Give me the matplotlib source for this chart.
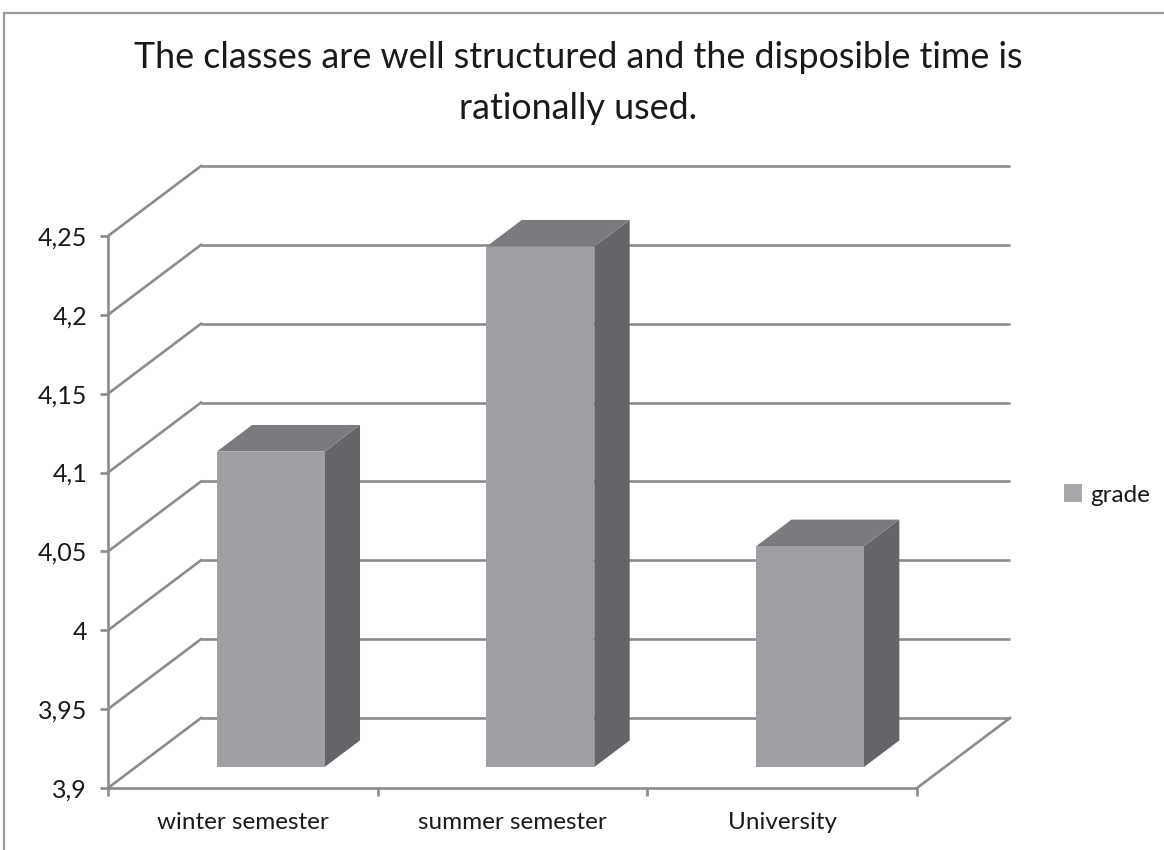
import matplotlib
matplotlib.use("Agg")
import matplotlib.pyplot as plt
from matplotlib.patches import Polygon, Rectangle, Patch

# ---- data -------------------------------------------------------------
categories = ["winter semester", "summer semester", "University"]
grade = [4.10, 4.23, 4.04]
y_ticks = [3.9, 3.95, 4.0, 4.05, 4.1, 4.15, 4.2, 4.25]
y_tick_labels = ["3,9", "3,95", "4", "4,05", "4,1", "4,15", "4,2", "4,25"]
series_name = "grade"
title = "The classes are well structured and the disposible time is\nrationally used."

# ---- style ------------------------------------------------------------
plt.rcParams["font.family"] = ["Lato", "DejaVu Sans"]
GRID = "#8c8c8c"
FRONT = "#9d9fa2"
TOP = "#7a7b7f"
SIDE = "#646569"
TXT = "#1a1a1a"
LW = 1.9

W, H = 1164, 850
fig = plt.figure(figsize=(W / 100, H / 100), dpi=100)

# axes = front plane of the 3-D plot box
x0p, x1p, ybot, ytop = 108, 917, 788, 236
ax = fig.add_axes([x0p / W, 1 - ybot / H, (x1p - x0p) / W, (ybot - ytop) / H])
ymin, ymax = y_ticks[0], y_ticks[-1]
n = len(categories)
ax.set_xlim(-0.5, n - 0.5)
ax.set_ylim(ymin, ymax)
ax.patch.set_visible(False)

# oblique depth offset (data units)
px_per_x = (x1p - x0p) / n
px_per_y = (ybot - ytop) / (ymax - ymin)
DX = 93 / px_per_x
DY = 70 / px_per_y

xl, xr = -0.5, n - 0.5

# back wall gridlines and left wall diagonals
for v in y_ticks:
    ax.plot([xl + DX, xr + DX], [v + DY, v + DY], color=GRID, lw=LW,
            clip_on=False, zorder=1, solid_capstyle="butt")
    ax.plot([xl, xl + DX], [v, v + DY], color=GRID, lw=LW,
            clip_on=False, zorder=1)
# right edge of floor
ax.plot([xr, xr + DX], [ymin, ymin + DY], color=GRID, lw=LW,
        clip_on=False, zorder=1)

# 3-D columns
d0, d1 = 0.30, 0.68
bw = 0.40
for i, v in enumerate(grade):
    fx0 = i - bw / 2 + d0 * DX
    fx1 = i + bw / 2 + d0 * DX
    fy0 = ymin + d0 * DY
    fy1 = v + d0 * DY
    ddx = (d1 - d0) * DX
    ddy = (d1 - d0) * DY
    front = Rectangle((fx0, fy0), fx1 - fx0, fy1 - fy0, facecolor=FRONT,
                      edgecolor="none", clip_on=False, zorder=3)
    side = Polygon([(fx1, fy0), (fx1 + ddx, fy0 + ddy), (fx1 + ddx, fy1 + ddy),
                    (fx1, fy1)], closed=True, facecolor=SIDE, edgecolor="none",
                   clip_on=False, zorder=3)
    top = Polygon([(fx0, fy1), (fx1, fy1), (fx1 + ddx, fy1 + ddy),
                   (fx0 + ddx, fy1 + ddy)], closed=True, facecolor=TOP,
                  edgecolor="none", clip_on=False, zorder=3)
    for p in (side, top, front):
        ax.add_patch(p)

# axes spines and ticks
for s in ("top", "right"):
    ax.spines[s].set_visible(False)
for s in ("left", "bottom"):
    ax.spines[s].set_color(GRID)
    ax.spines[s].set_linewidth(LW)
    ax.spines[s].set_zorder(4)

ax.set_yticks(y_ticks)
ax.set_yticklabels(y_tick_labels)
ax.tick_params(axis="y", direction="out", length=6, width=LW, color=GRID,
               pad=9, labelsize=18, labelcolor=TXT)

ax.set_xticks(range(n))
ax.set_xticklabels(categories)
ax.set_xticks([k - 0.5 for k in range(n + 1)], minor=True)
ax.tick_params(axis="x", which="major", length=0, pad=17, labelsize=17.5,
               labelcolor=TXT)
ax.tick_params(axis="x", which="minor", direction="out", length=6, width=LW,
               color=GRID)

# title
fig.text(578 / W, 1 - 83 / H, title, ha="center", va="center", fontsize=25.8,
         color=TXT, linespacing=1.68)

# legend
fig.legend(handles=[Patch(facecolor="#a6a7aa", edgecolor="none", label=series_name)],
           loc="center left", bbox_to_anchor=(1064 / W, 1 - 495 / H),
           frameon=False, fontsize=17.5, handlelength=0.75, handleheight=0.75,
           handletextpad=0.35, borderpad=0, borderaxespad=0, labelcolor=TXT)

# chart border
fig.patches.append(Rectangle((4 / W, -0.1), 1.2, 1 - 13 / H + 0.1,
                             transform=fig.transFigure, fill=False,
                             edgecolor="#9a9a9a", lw=1.6))

fig.savefig("out.png", dpi=100)
